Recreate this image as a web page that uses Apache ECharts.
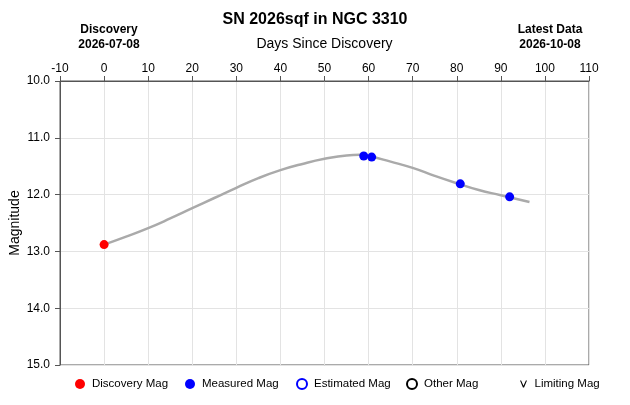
<!DOCTYPE html>
<html>
<head>
<meta charset="utf-8">
<script src="https://cdn.jsdelivr.net/npm/echarts@6/dist/echarts.min.js"></script>
<style>
  html, body { margin: 0; padding: 0; background: #fff; }
  #chart { width: 630px; height: 405px; }
</style>
</head>
<body>
<div id="chart"></div>
<script>
// light curve fit (days since discovery, magnitude)
const curveDays = [0, 5, 10, 15, 20, 25, 30, 35, 40, 45, 50, 55, 58, 60, 65, 70, 75, 80, 85, 90, 96.5];
const curveMags = [12.88, 12.74, 12.59, 12.42, 12.24, 12.06, 11.88, 11.71, 11.57, 11.46, 11.37, 11.31, 11.30, 11.32, 11.42, 11.53, 11.67, 11.80, 11.92, 12.01, 12.13];

const discoveryDays = [0];
const discoveryMags = [12.88];

const measuredDays = [58.9, 60.7, 80.8, 92.0];
const measuredMags = [11.32, 11.34, 11.81, 12.04];

const legendNames = ['Discovery Mag', 'Measured Mag', 'Estimated Mag', 'Other Mag', 'Limiting Mag'];
const legendLeft = [70, 180, 291, 401, 515];

const FONT = 'Liberation Sans, Arial, sans-serif';

function pairs(xs, ys) {
    return xs.map((x, i) => [x, ys[i]]);
}

var myChart = echarts.init(document.getElementById('chart'));

var vIcon = 'path://M0,0 L1.6,0 L5,7.6 L8.4,0 L10,0 L5.8,10 L4.2,10 Z';

var option = {
    animation: false,
    textStyle: { fontFamily: FONT },
    title: [
        {
            text: 'SN 2026sqf in NGC 3310',
            left: 'center', top: 7,
            textStyle: { fontFamily: FONT, fontSize: 16, fontWeight: 'bold', color: '#000' }
        },
        {
            text: 'Discovery\n2026-07-08',
            left: 104, top: 17, textAlign: 'center',
            textStyle: { fontFamily: FONT, fontSize: 12, fontWeight: 'bold', color: '#000', lineHeight: 15 }
        },
        {
            text: 'Latest Data\n2026-10-08',
            left: 545, top: 17, textAlign: 'center',
            textStyle: { fontFamily: FONT, fontSize: 12, fontWeight: 'bold', color: '#000', lineHeight: 15 }
        }
    ],
    legend: legendNames.map(function (name, i) {
        return {
            data: [{ name: name, icon: i === 4 ? vIcon : 'circle' }],
            left: legendLeft[i], top: 373,
            itemWidth: i === 4 ? 8 : 10, itemHeight: i === 4 ? 7 : 10,
            itemGap: 0,
            selectedMode: false,
            textStyle: { fontFamily: FONT, fontSize: 11.5, color: '#000', padding: [0, 0, 0, 2] }
        };
    }),
    grid: {
        left: 60, right: 41, top: 81, bottom: 40,
        outerBoundsMode: 'none',
        containLabel: false,
        show: true, borderColor: '#555', borderWidth: 1, backgroundColor: 'transparent'
    },
    xAxis: {
        type: 'value',
        position: 'top',
        min: -10, max: 110, interval: 10,
        name: 'Days Since Discovery',
        nameLocation: 'middle',
        nameGap: 30,
        nameTextStyle: { fontFamily: FONT, fontSize: 14, color: '#000' },
        axisLine: { show: true, onZero: false, lineStyle: { color: '#555' } },
        axisTick: { show: true, length: 5, lineStyle: { color: '#555' } },
        axisLabel: { fontFamily: FONT, fontSize: 12, color: '#000', margin: 6 },
        splitLine: { show: true, lineStyle: { color: '#e3e3e3' } }
    },
    yAxis: {
        type: 'value',
        inverse: true,
        min: 10, max: 15, interval: 1,
        name: 'Magnitude',
        nameLocation: 'middle',
        nameGap: 38,
        nameMoveOverlap: false,
        nameTextStyle: { fontFamily: FONT, fontSize: 14, color: '#000' },
        axisLine: { show: true, onZero: false, lineStyle: { color: '#555' } },
        axisTick: { show: true, length: 5, lineStyle: { color: '#555' } },
        axisLabel: {
            fontFamily: FONT, fontSize: 12, color: '#000', margin: 10,
            formatter: function (v) { return v.toFixed(1); }
        },
        splitLine: { show: true, lineStyle: { color: '#e3e3e3' } }
    },
    series: [
        {
            name: 'curve',
            type: 'line',
            data: pairs(curveDays, curveMags),
            smooth: true,
            showSymbol: false,
            silent: true,
            lineStyle: { color: '#aaaaaa', width: 2.5 },
            z: 1
        },
        {
            name: 'Discovery Mag',
            type: 'scatter',
            data: pairs(discoveryDays, discoveryMags),
            symbolSize: 9,
            itemStyle: { color: '#ff0000', opacity: 1 },
            z: 3
        },
        {
            name: 'Measured Mag',
            type: 'scatter',
            data: pairs(measuredDays, measuredMags),
            symbolSize: 9,
            itemStyle: { color: '#0000ff', opacity: 1 },
            z: 3
        },
        {
            name: 'Estimated Mag',
            type: 'scatter',
            data: [],
            itemStyle: { color: '#ffffff', borderColor: '#0000ff', borderWidth: 1, opacity: 1 }
        },
        {
            name: 'Other Mag',
            type: 'scatter',
            data: [],
            itemStyle: { color: '#ffffff', borderColor: '#000000', borderWidth: 1, opacity: 1 }
        },
        {
            name: 'Limiting Mag',
            type: 'scatter',
            data: [],
            itemStyle: { color: '#000000', opacity: 1 }
        }
    ]
};
myChart.setOption(option);
</script>
</body>
</html>
